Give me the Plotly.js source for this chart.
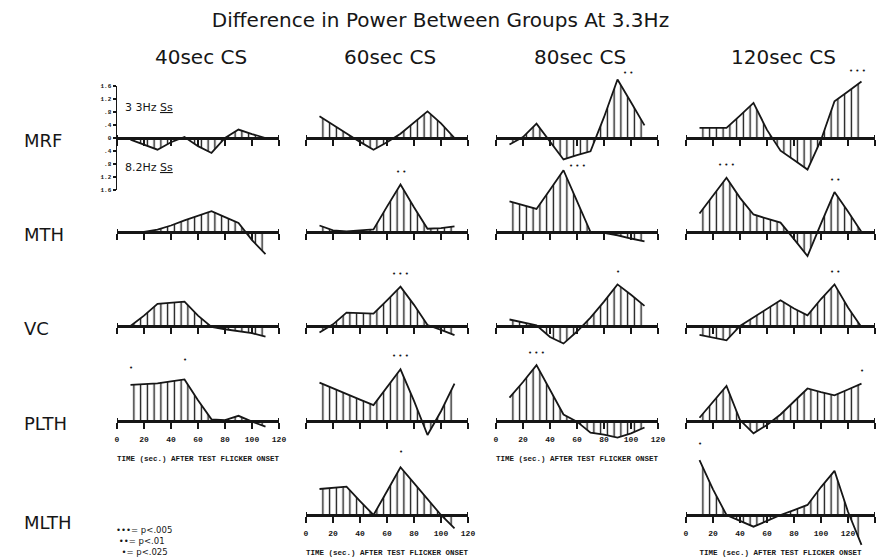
<!DOCTYPE html>
<html><head><meta charset="utf-8">
<script src="https://cdn.plot.ly/plotly-3.0.1.min.js"></script>
<style>html,body{margin:0;padding:0;background:#fff}#chart{width:881px;height:559px}</style>
</head><body><div id="chart"></div>
<script>
// ---------------- DATA ----------------
const chartTitle = 'Difference in Power Between Groups At 3.3Hz';
const conditions = ['40sec CS', '60sec CS', '80sec CS', '120sec CS'];
const regions = ['MRF', 'MTH', 'VC', 'PLTH', 'MLTH'];
const times120 = [10, 20, 30, 40, 50, 60, 70, 80, 90, 100, 110];
const times140 = [10, 20, 30, 40, 50, 60, 70, 80, 90, 100, 110, 120, 130];
const xAxisTitle = 'TIME (sec.) AFTER TEST FLICKER ONSET';
const yTickVals = [1.6, 1.2, 0.8, 0.4, 0, -0.4, -0.8, -1.2, -1.6];
const yTickText = ['1.6', '1.2', '.8', '.4', '0', '.4', '.8', '1.2', '1.6'];
const upperNote = '3 3Hz <u>Ss</u>';
const lowerNote = '8.2Hz <u>Ss</u>';

const mrf40  = [-0.05, -0.20, -0.36, -0.13, 0.03, -0.25, -0.46, 0.00, 0.26, 0.12, 0.00];
const mrf60  = [0.67, 0.40, 0.13, -0.12, -0.36, -0.13, 0.13, 0.47, 0.82, 0.45, 0.00];
const mrf80  = [-0.20, 0.03, 0.44, -0.10, -0.66, -0.53, -0.41, 0.64, 1.80, 1.10, 0.39];
const mrf120 = [0.31, 0.31, 0.31, 0.69, 1.08, 0.25, -0.39, -0.68, -0.97, -0.06, 1.13, 1.43, 1.74];

const mth40  = [0.00, 0.00, 0.07, 0.20, 0.36, 0.51, 0.64, 0.46, 0.28, -0.25, -0.68];
const mth60  = [0.20, 0.05, 0.02, 0.05, 0.08, 0.78, 1.46, 0.76, 0.10, 0.12, 0.17];
const mth80  = [0.94, 0.83, 0.71, 1.30, 1.90, 0.95, 0.00, -0.03, -0.10, -0.20, -0.29];
const mth120 = [0.57, 1.13, 1.67, 1.05, 0.54, 0.41, 0.29, -0.22, -0.74, 0.26, 1.23, 0.63, 0.00];

const vc40  = [0.00, 0.32, 0.68, 0.72, 0.75, 0.32, -0.03, -0.10, -0.15, -0.22, -0.33];
const vc60  = [-0.20, 0.05, 0.41, 0.40, 0.38, 0.79, 1.21, 0.65, 0.03, -0.12, -0.28];
const vc80  = [0.20, 0.12, 0.02, -0.34, -0.54, -0.17, 0.26, 0.75, 1.28, 0.96, 0.62];
const vc120 = [-0.27, -0.35, -0.44, 0.00, 0.27, 0.53, 0.79, 0.54, 0.33, 0.83, 1.28, 0.57, -0.04];

const plth40  = [1.11, 1.13, 1.16, 1.22, 1.28, 0.64, 0.05, 0.03, 0.16, -0.02, -0.17];
const plth60  = [1.18, 1.00, 0.84, 0.66, 0.49, 1.04, 1.59, 0.62, -0.43, 0.30, 1.15];
const plth80  = [0.72, 1.20, 1.72, 0.96, 0.20, -0.02, -0.36, -0.42, -0.51, -0.38, -0.20];
const plth120 = [0.10, 0.60, 1.08, 0.03, -0.38, -0.12, 0.20, 0.60, 1.00, 0.89, 0.79, 0.97, 1.15];

const mlth60  = [0.80, 0.83, 0.87, 0.43, 0.00, 0.73, 1.47, 0.98, 0.50, 0.00, -0.41];
const mlth120 = [1.69, 0.79, 0.00, -0.18, -0.36, -0.18, 0.00, 0.15, 0.31, 0.86, 1.36, 0.10, -0.92];

// significance marks (region, condition, time, number of dots)
const sigRegion = ['MRF', 'MRF', 'MTH', 'MTH', 'MTH', 'MTH', 'VC', 'VC', 'VC', 'PLTH', 'PLTH', 'PLTH', 'PLTH', 'PLTH', 'MLTH', 'MLTH'];
const sigCond   = ['80sec CS', '120sec CS', '60sec CS', '80sec CS', '120sec CS', '120sec CS', '60sec CS', '80sec CS', '120sec CS', '40sec CS', '40sec CS', '60sec CS', '80sec CS', '120sec CS', '60sec CS', '120sec CS'];
const sigTime   = [90, 130, 70, 50, 30, 110, 70, 90, 110, 10, 50, 70, 30, 130, 70, 10];
const sigLevel  = [2, 3, 2, 3, 3, 2, 3, 1, 2, 1, 1, 3, 3, 1, 1, 1];
const sigLegend = ['\u2022\u2022\u2022= p<.005', '\u2022\u2022= p<.01', '\u2022= p<.025'];

// ---------------- STYLE / GEOMETRY ----------------
const W = 881, H = 559;
const INK = '#161616';
const colLeft = [117, 306, 496, 686];
const rowBase = [138, 232, 326, 421, 515];
const pxPerSec = 1.35, pxPerUnit = 32.5;
const sigShift = [[10, 0], [-4, 4], [0, 7], [14, -2], [0, 7], [0, 6], [0, 7], [0, 6], [0, 6], [0, 11], [0, 13], [0, 7], [0, 6], [0, 7], [0, 9], [0, 10]];
const keyIndent = ['', '\u00a0', '\u00a0\u00a0'];

const panelSeries = {
  MRF: [mrf40, mrf60, mrf80, mrf120],
  MTH: [mth40, mth60, mth80, mth120],
  VC: [vc40, vc60, vc80, vc120],
  PLTH: [plth40, plth60, plth80, plth120],
  MLTH: [null, mlth60, null, mlth120]
};
const labelled = {'PLTH|40sec CS': 1, 'PLTH|80sec CS': 1, 'MLTH|60sec CS': 1, 'MLTH|120sec CS': 1};

const px2x = p => p / W;
const px2y = p => 1 - p / H;

const traces = [];
const layout = {
  width: W, height: H,
  margin: {l: 0, r: 0, t: 0, b: 0},
  paper_bgcolor: '#ffffff', plot_bgcolor: 'rgba(0,0,0,0)',
  showlegend: false,
  title: {text: chartTitle, x: 0.5, xanchor: 'center', y: px2y(20), yanchor: 'middle',
          font: {family: 'DejaVu Sans', size: 20, color: INK}},
  annotations: [], shapes: []
};
const panelIds = {};
let n = 0;
regions.forEach((reg, r) => {
  conditions.forEach((cond, c) => {
    const ys = panelSeries[reg][c];
    if (!ys) return;
    n++;
    const id = n === 1 ? '' : String(n);
    panelIds[reg + '|' + cond] = id;
    const times = c === 3 ? times140 : times120;
    const tmax = c === 3 ? 140 : 120;
    const isFirst = (r === 0 && c === 0);
    const hi = isFirst ? 1.6 : 2.0;
    const lo = isFirst ? -1.6 : (reg === 'MLTH' ? -1.3 : -2.0);
    const B = rowBase[r];
    const x0 = colLeft[c];
    const hasLabels = !!labelled[reg + '|' + cond];
    traces.push({
      type: 'scatter', mode: 'lines', x: times, y: ys,
      xaxis: 'x' + id, yaxis: 'y' + id,
      line: {color: INK, width: 1.8},
      fill: 'tozeroy', fillcolor: 'rgba(0,0,0,0)',
      fillpattern: {shape: '|', size: 6.75, solidity: 0.2, fgcolor: INK, bgcolor: 'rgba(0,0,0,0)'},
      hoverinfo: 'skip'
    });
    layout['xaxis' + id] = {
      domain: [px2x(x0), px2x(x0 + tmax * pxPerSec)],
      range: [0, tmax], anchor: 'free', position: px2y(B),
      showline: true, linecolor: INK, linewidth: 2.5,
      ticks: 'outside', ticklen: 6, tickwidth: 2, tickcolor: INK,
      tickmode: 'linear', tick0: 0, dtick: 20,
      showgrid: false, zeroline: false,
      showticklabels: hasLabels, ticklabelstandoff: 4,
      tickfont: {family: 'Liberation Mono', size: 8, color: INK, weight: 'bold'},
      title: hasLabels ? {text: xAxisTitle, standoff: 12,
        font: {family: 'Liberation Mono', size: 7.5, color: INK, weight: 'bold'}} : {text: ''},
      fixedrange: true
    };
    layout['yaxis' + id] = {
      domain: [px2y(B - lo * pxPerUnit), px2y(B - hi * pxPerUnit)],
      range: [lo, hi], anchor: 'x' + id,
      showgrid: false, zeroline: false, fixedrange: true,
      visible: isFirst,
      showline: isFirst, linecolor: INK, linewidth: 1.5,
      ticks: isFirst ? 'outside' : '', ticklen: 3, tickwidth: 1.5, tickcolor: INK,
      tickmode: 'array', tickvals: yTickVals, ticktext: yTickText,
      showticklabels: isFirst,
      tickfont: {family: 'Liberation Mono', size: 6, color: INK, weight: 'bold'}
    };
    // end caps of the time axis
    [0, tmax].forEach(t => layout.shapes.push({type: 'line', xref: 'x' + id, yref: 'y' + id,
      x0: t, x1: t, y0: 0, y1: 0.09, line: {color: INK, width: 2}}));
  });
});

// column headers
conditions.forEach((cond, c) => {
  const tmax = c === 3 ? 140 : 120;
  layout.annotations.push({xref: 'paper', yref: 'paper', x: px2x(colLeft[c] + tmax * pxPerSec / 2 + 3), y: px2y(57),
    xanchor: 'center', yanchor: 'middle', showarrow: false, text: cond,
    font: {family: 'DejaVu Sans', size: 20, color: INK}});
});
// row labels
regions.forEach((reg, r) => {
  layout.annotations.push({xref: 'paper', yref: 'paper', x: px2x(22), y: px2y(rowBase[r] + (r === 4 ? 7 : 2)),
    xanchor: 'left', yanchor: 'middle', showarrow: false, text: reg,
    font: {family: 'DejaVu Sans', size: 18, color: INK}});
});
// frequency notes in first panel
layout.annotations.push({xref: 'paper', yref: 'paper', x: px2x(123), y: px2y(108), xanchor: 'left', yanchor: 'middle',
  showarrow: false, text: upperNote, font: {family: 'DejaVu Sans', size: 11, color: INK}});
layout.annotations.push({xref: 'paper', yref: 'paper', x: px2x(123), y: px2y(168), xanchor: 'left', yanchor: 'middle',
  showarrow: false, text: lowerNote, font: {family: 'DejaVu Sans', size: 11, color: INK}});

// significance dots
sigRegion.forEach((reg, i) => {
  const c = conditions.indexOf(sigCond[i]);
  const times = c === 3 ? times140 : times120;
  const ys = panelSeries[reg][c];
  const id = panelIds[reg + '|' + sigCond[i]];
  const v = ys[times.indexOf(sigTime[i])];
  layout.annotations.push({xref: 'x' + id, yref: 'y' + id, x: sigTime[i], y: v,
    xanchor: 'center', yanchor: 'bottom', showarrow: false,
    xshift: sigShift[i][0], yshift: sigShift[i][1],
    text: Array(sigLevel[i]).fill('\u2022').join(' '),
    font: {family: 'DejaVu Sans', size: 7, color: INK}});
});
// significance key (one block, three lines)
layout.annotations.push({xref: 'paper', yref: 'paper', x: px2x(114), y: px2y(541),
  xanchor: 'left', yanchor: 'middle', align: 'left', showarrow: false,
  text: sigLegend.map((t, i) => keyIndent[i] + t).join('<br>'),
  font: {family: 'DejaVu Sans', size: 8.5, color: INK}});

Plotly.newPlot('chart', traces, layout, {staticPlot: true, displayModeBar: false});
</script>
</body></html>
